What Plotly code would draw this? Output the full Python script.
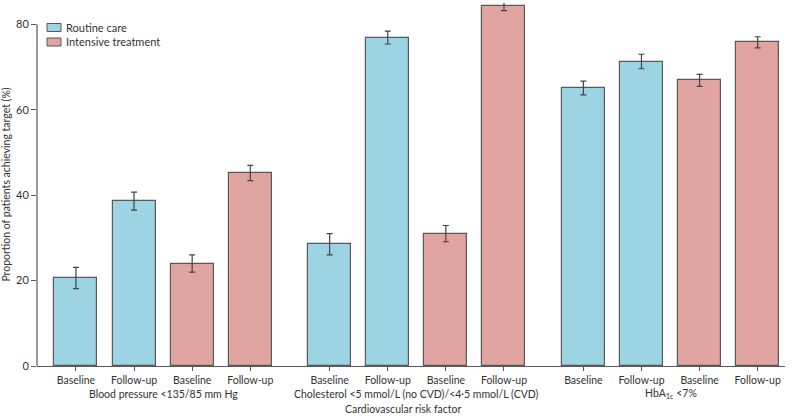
import plotly.graph_objects as go

# ---- data ----
groups = ["Blood pressure &lt;135/85 mm Hg",
          "Cholesterol &lt;5 mmol/L (no CVD)/&lt;4·5 mmol/L (CVD)",
          "HbA<sub>1c</sub> &lt;7%"]
bar_labels = ["Baseline", "Follow-up", "Baseline", "Follow-up"]
series_names = ["Routine care", "Intensive treatment"]

routine_baseline = [20.6, 28.5, 65.1]
routine_followup = [38.6, 76.9, 71.3]
intensive_baseline = [24.0, 31.0, 66.9]
intensive_followup = [45.2, 84.4, 75.8]

routine_baseline_err = [2.5, 2.5, 1.6]
routine_followup_err = [2.1, 1.5, 1.7]
intensive_baseline_err = [2.0, 1.9, 1.4]
intensive_followup_err = [1.8, 1.2, 1.3]

y_ticks = [0, 20, 40, 60, 80]

# ---- layout helpers ----
GAP = 0.366
def pos(g, k):
    return g * (4 + GAP) + k

FONT = "Lato"
BLUE = "#9dd4e4"
RED = "#e0a5a1"
EDGE = "#595959"
TEXT = "#333333"

W, H = 798, 416
ML, MR, MT, MB = 37, 13, 3, 50
PW, PH = W - ML - MR, H - MT - MB

def px_x(px):
    return (px - ML) / PW

def px_y(py):
    return (H - MB - py) / PH

routine_x, routine_y, routine_e = [], [], []
intens_x, intens_y, intens_e = [], [], []
for g in range(3):
    routine_x += [pos(g, 0), pos(g, 1)]
    routine_y += [routine_baseline[g], routine_followup[g]]
    routine_e += [routine_baseline_err[g], routine_followup_err[g]]
    intens_x += [pos(g, 2), pos(g, 3)]
    intens_y += [intensive_baseline[g], intensive_followup[g]]
    intens_e += [intensive_baseline_err[g], intensive_followup_err[g]]

colors = [BLUE, RED]
fig = go.Figure()
for name, xs, ys, es, col in [(series_names[0], routine_x, routine_y, routine_e, BLUE),
                              (series_names[1], intens_x, intens_y, intens_e, RED)]:
    fig.add_trace(go.Bar(
        name=name, x=xs, y=ys, width=0.74,
        marker=dict(color=col, line=dict(color=EDGE, width=1.2)),
        error_y=dict(type="data", array=es, visible=True, color="#444444",
                     thickness=1.2, width=3),
        showlegend=False,
    ))

tickvals = [pos(g, k) for g in range(3) for k in range(4)]
ticktext = bar_labels * 3

fig.update_layout(
    width=W, height=H,
    margin=dict(l=ML, r=MR, t=MT, b=MB, autoexpand=False),
    paper_bgcolor="white", plot_bgcolor="white",
    font=dict(family=FONT, size=11, color=TEXT),
    showlegend=False,
    bargap=0,
)
fig.update_xaxes(
    range=[-0.67, pos(2, 3) + 0.47],
    tickvals=tickvals, ticktext=ticktext,
    showline=True, linecolor=EDGE, linewidth=1.2,
    ticks="outside", ticklen=4, tickcolor=EDGE, tickwidth=1,
    showgrid=False, zeroline=False, automargin=False,
    tickfont=dict(size=10.5),
)
fig.update_yaxes(
    range=[0, 85], tickvals=y_ticks,
    showline=False, ticks="outside", ticklen=5, tickcolor=EDGE, tickwidth=1,
    showgrid=False, zeroline=False, automargin=False,
    tickfont=dict(size=11),
    title=dict(text="Proportion of patients achieving target (%)",
               font=dict(size=10.5), standoff=6),
)
# y axis line only up to the last tick
fig.add_shape(type="line", xref="paper", yref="y", x0=0, x1=0, y0=0, y1=y_ticks[-1],
              line=dict(color=EDGE, width=1.2))

# legend (drawn manually to match swatch shape)
for i, (name, col) in enumerate(zip(series_names, colors)):
    top = 23.5 + i * 14.5
    fig.add_shape(type="rect", xref="paper", yref="paper",
                  x0=px_x(47), x1=px_x(61), y0=px_y(top + 8), y1=px_y(top),
                  fillcolor=col, line=dict(color=EDGE, width=1))
    fig.add_annotation(x=px_x(64), xref="paper", y=px_y(top + 4), yref="paper",
                       text=name, showarrow=False, xanchor="left", yanchor="middle",
                       font=dict(size=11))

for g in range(3):
    fig.add_annotation(x=(pos(g, 0) + pos(g, 3)) / 2, xref="x", y=0, yref="paper",
                       yshift=-28, text=groups[g], showarrow=False,
                       font=dict(size=10.5), yanchor="middle")
fig.add_annotation(x=px_x(403), xref="paper", y=0, yref="paper", yshift=-43,
                   text="Cardiovascular risk factor", showarrow=False,
                   font=dict(size=10.5), yanchor="middle")

fig.write_html("out.html",
               config={"displayModeBar": False},
               post_script="document.body.style.margin='0';document.body.style.overflow='hidden';")
